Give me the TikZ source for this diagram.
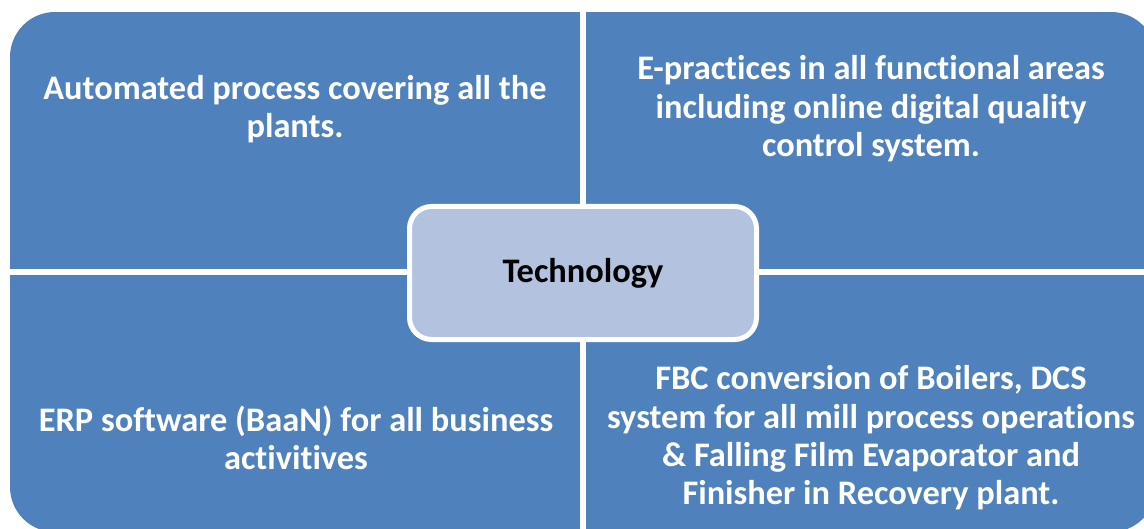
\documentclass[tikz,border=0pt]{standalone}
\usepackage{fontspec}
\setmainfont{Carlito}[Ligatures=NoCommon]
\definecolor{quadblue}{HTML}{4F81BD}
\definecolor{hubblue}{HTML}{B3C2DE}
\begin{document}
\begin{tikzpicture}[x=0.5pt,y=-0.5pt,
        quadtext/.style={text=white, font=\bfseries\fontsize{17.2}{19.2}\selectfont, align=center},
        hub/.style={draw=white, line width=2.5pt, fill=hubblue, rounded corners=11pt,
            minimum width=173.5pt, minimum height=66.5pt, font=\bfseries\fontsize{17.2}{19.2}\selectfont}]
    \useasboundingbox (0,0) rectangle (1144,529);
    \def\midx{583}
    \def\midy{272}
    \def\gap{3}
    % quadrants
    \begin{scope}
        \clip[rounded corners=22.5pt] (10,12) rectangle (1156,532);
        \fill[quadblue] (10,12) rectangle ({\midx-\gap},{\midy-\gap});
        \fill[quadblue] ({\midx+\gap},12) rectangle (1156,{\midy-\gap});
        \fill[quadblue] (10,{\midy+\gap}) rectangle ({\midx-\gap},532);
        \fill[quadblue] ({\midx+\gap},{\midy+\gap}) rectangle (1156,532);
    \end{scope}
    % texts
    \node[quadtext] (auto) at (295,109) {Automated process covering all the\\plants.};
    \node[quadtext] (epract) at (871,109) {E-practices in all functional areas\\including online digital quality\\control system.};
    \node[quadtext] (erp) at (296,438) {ERP software (BaaN) for all business\\activitives};
    \node[quadtext] (fbc) at (871,438) {FBC conversion of Boilers, DCS\\system for all mill process operations\\\& Falling Film Evaporator and\\Finisher in Recovery plant.};
    % centre
    \node[hub] (tech) at (\midx,273) {Technology};
\end{tikzpicture}
\end{document}
